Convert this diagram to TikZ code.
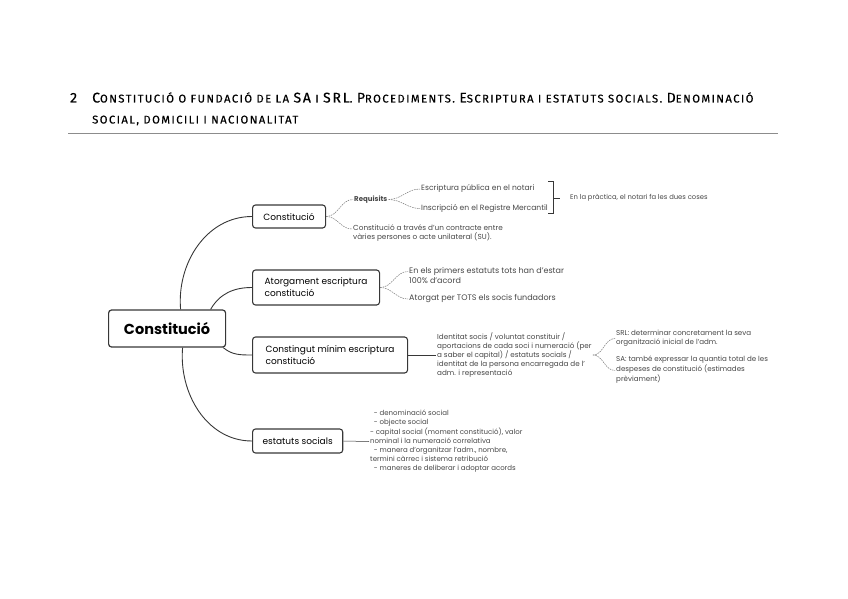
\documentclass[tikz,border=0pt]{standalone}
\usepackage{fontspec}
\setmainfont{Poppins}
\newfontfamily\titlefont[LetterSpace=13,FakeBold=0.4]{Fira Sans}
\usetikzlibrary{positioning}
\definecolor{boxline}{RGB}{55,55,55}
\definecolor{twiggray}{RGB}{120,120,120}
\definecolor{leaftext}{RGB}{70,70,70}
\definecolor{rulegray}{RGB}{140,140,140}
\newcommand\titlecap[1]{{\fontsize{14}{18}\selectfont #1}}

\begin{document}
\begin{tikzpicture}[x=1pt, y=1pt,
    root/.style={draw=boxline, line width=1.2pt, rounded corners=3pt, minimum width=117pt, minimum height=37pt, font=\fontsize{14.5}{16}\selectfont\bfseries},
    topic/.style={draw=boxline, line width=1.1pt, rounded corners=3pt, inner xsep=10pt, align=left, font=\fontsize{9}{12}\selectfont},
    leaf/.style={align=left, inner sep=1pt, text=leaftext, font=\fontsize{8}{9.2}\selectfont},
    branch/.style={draw=boxline, line width=0.9pt},
    twig/.style={draw=twiggray, line width=0.5pt, dash pattern=on 1.6pt off 0.9pt}]
  \useasboundingbox (0,0) rectangle (848,-599);

  % title
  \node[anchor=base west, inner sep=0pt, font=\titlefont\fontsize{14}{18}\selectfont] (num) at (70,-102.5) {2};
  \node[anchor=base west, inner sep=0pt, font=\titlefont\fontsize{11.2}{18}\selectfont] (ttl) at (92,-102.5)
    {\titlecap{C}ONSTITUCIÓ O FUNDACIÓ DE LA \titlecap{SA} I \titlecap{SRL}. \titlecap{P}ROCEDIMENTS. \titlecap{E}SCRIPTURA I ESTATUTS SOCIALS. \titlecap{D}ENOMINACIÓ};
  \node[anchor=base west, inner sep=0pt, font=\titlefont\fontsize{11.2}{18}\selectfont] (ttl2) at (92,-123.5)
    {SOCIAL, DOMICILI I NACIONALITAT};
  \draw[rulegray, line width=0.6pt] (68,-133) -- (778,-133);

  % central topic and main branches
  \node[root, anchor=west] (root) at (108,-328.5) {Constitució};
  \node[topic, anchor=west, minimum width=73pt, minimum height=23pt] (cons) at (252,-216.5) {Constitució};
  \node[topic, anchor=west, minimum width=127pt, minimum height=35pt] (atorg) at (252,-287.5) {Atorgament escriptura\\constitució};
  \node[topic, anchor=west, minimum width=155pt, minimum height=36pt] (contin) at (252,-355) {Constingut mínim escriptura\\constitució};
  \node[topic, anchor=west, minimum width=90pt, minimum height=24pt] (estat) at (252,-441) {estatuts socials};

  \draw[branch] ([xshift=13.5pt]root.north) to[out=95,in=180] (cons.west);
  \draw[branch] ([xshift=43.5pt]root.north) to[out=60,in=180] (atorg.west);
  \draw[branch] ([xshift=-3pt]root.south east) to[out=-40,in=180] (contin.west);
  \draw[branch] ([xshift=15.5pt]root.south) to[out=-95,in=180] (estat.west);

  % Constitucio
  \node[leaf, anchor=west, font=\fontsize{7}{9}\selectfont\bfseries] (req) at (353,-199.5) {Requisits};
  \node[leaf, anchor=west, font=\fontsize{7.3}{9.5}\selectfont] (contr) at (352,-233) {Constitució a través d'un contracte entre\\vàries persones o acte unilateral (SU).};
  \node[leaf, anchor=west, font=\fontsize{7.6}{9.2}\selectfont] (esc) at (420,-189) {Escriptura pública en el notari};
  \node[leaf, anchor=west, font=\fontsize{7.6}{9.2}\selectfont] (insc) at (420,-208.5) {Inscripció en el Registre Mercantil};
  \node[leaf, anchor=west, font=\fontsize{6.8}{9}\selectfont] (pract) at (569,-198) {En la pràctica, el notari fa les dues coses};
  \draw[twig] (cons.east) to[out=0,in=180] (req.west);
  \draw[twig] (cons.east) to[out=0,in=180] ([yshift=4pt]contr.west);
  \draw[twig] (req.east) to[out=0,in=180] (esc.west);
  \draw[twig] (req.east) to[out=0,in=180] (insc.west);
  \coordinate (brk) at (553,-198);
  \draw[boxline, line width=0.6pt] (548,-181) -- (553,-181) -- (553,-213) -- (548,-213);
  \draw[boxline, line width=0.6pt] (brk) -- (560,-198);

  % Atorgament
  \node[leaf, anchor=west] (primers) at (408,-275.5) {En els primers estatuts tots han d'estar\\100\% d'acord};
  \node[leaf, anchor=west] (tots) at (408,-299) {Atorgat per TOTS els socis fundadors};
  \draw[twig] (atorg.east) to[out=0,in=180] ([yshift=4pt]primers.west);
  \draw[twig] (atorg.east) to[out=0,in=180] (tots.west);

  % Contingut minim
  \node[leaf, anchor=west, font=\fontsize{7.2}{9.2}\selectfont] (minim) at (436,-355) {Identitat socis / voluntat constituir /\\aportacions de cada soci i numeració (per\\a saber el capital) / estatuts socials /\\identitat de la persona encarregada de l'\\adm. i representació};
  \draw[boxline, line width=0.5pt] (contin.east) -- (minim.west);
  \node[leaf, anchor=west, font=\fontsize{7.1}{9.2}\selectfont] (srl) at (615,-338.5) {SRL: determinar concretament la seva\\organització inicial de l'adm.};
  \node[leaf, anchor=west, font=\fontsize{7.1}{9.8}\selectfont] (sa) at (615,-369.5) {SA: també expressar la quantia total de les\\despeses de constitució (estimades\\prèviament)};
  \draw[twig] (minim.east) to[out=0,in=180] (srl.west);
  \draw[twig] (minim.east) to[out=0,in=180] ([yshift=-1pt]sa.west);

  % estatuts
  \node[leaf, anchor=west, font=\fontsize{7}{9.2}\selectfont] (llista) at (369,-441.5) {\ \ - denominació social\\\ \ - objecte social\\- capital social (moment constitució), valor\\nominal i la numeració correlativa\\\ \ - manera d'organitzar l'adm., nombre,\\termini càrrec i sistema retribució\\\ \ - maneres de deliberar i adoptar acords};
  \draw[boxline, line width=0.5pt] (estat.east) -- (llista.west);
\end{tikzpicture}
\end{document}
